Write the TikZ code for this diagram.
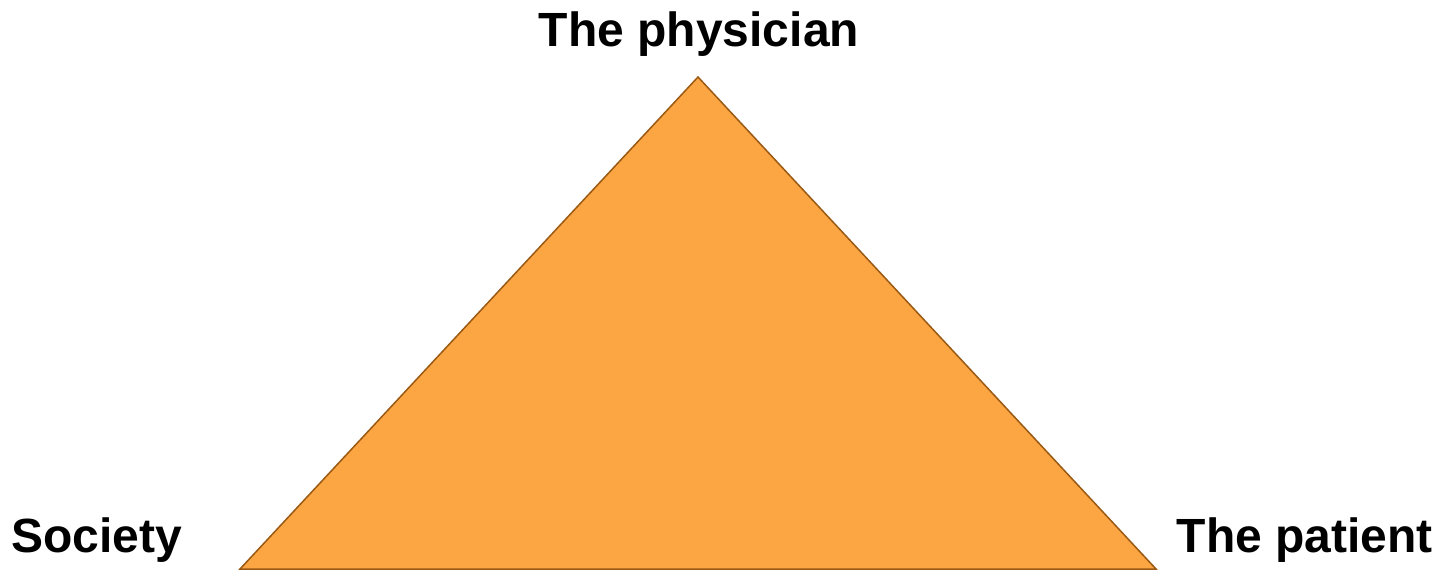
\documentclass[tikz,border=0pt]{standalone}
\usepackage{fontspec}
\setmainfont{Liberation Sans}
\definecolor{triFill}{HTML}{FBA543}
\definecolor{triLine}{HTML}{9A5A14}
\tikzset{
  lbl/.style={font=\fontsize{48}{56}\selectfont\bfseries, inner sep=0pt, text=black},
  tri/.style={fill=triFill, draw=triLine, line width=1.5pt, line join=miter}
}
\begin{document}
\begin{tikzpicture}[x=1pt,y=-1pt]
\useasboundingbox (0,0) rectangle (1441,574);
\coordinate (apex) at (698,77);
\coordinate (bl) at (240,569);
\coordinate (br) at (1156,569);
\draw[tri] (apex) -- (br) -- (bl) -- cycle;
\node[lbl, anchor=base] (phys) at (699,46) {The physician};
\node[lbl, anchor=base west] (soc) at (11,552) {Society};
\node[lbl, anchor=base east] (pat) at (1433,552) {The patient};
\end{tikzpicture}
\end{document}
